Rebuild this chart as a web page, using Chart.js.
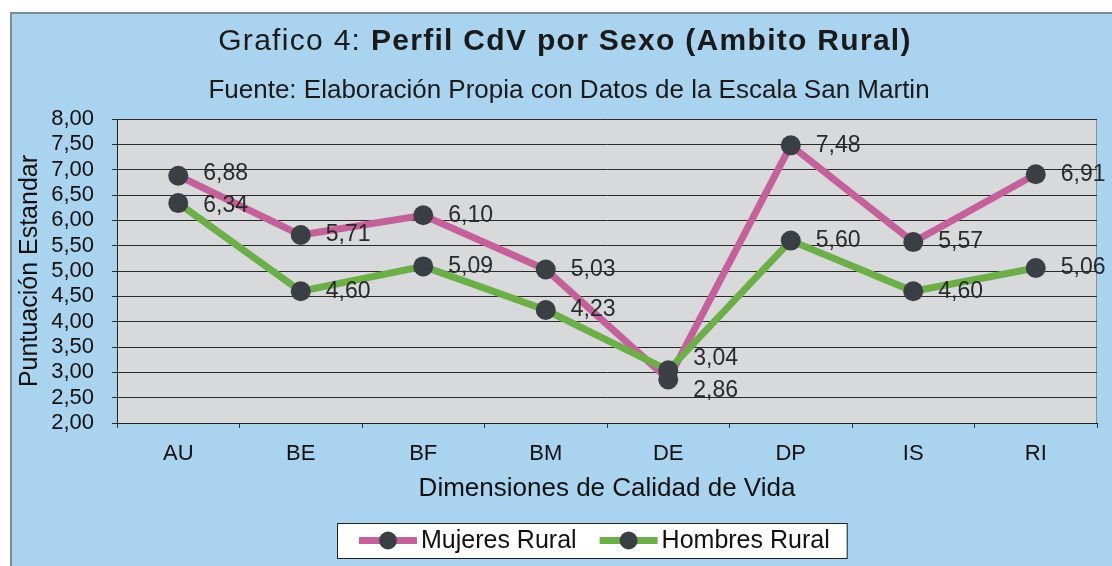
<!DOCTYPE html>
<html>
<head>
<meta charset="utf-8">
<script src="https://cdn.jsdelivr.net/npm/chart.js@4/dist/chart.umd.min.js"></script>
<style>
  html, body { margin: 0; padding: 0; background: #fff; }
  #wrap { position: relative; width: 1112px; height: 566px; }
</style>
</head>
<body>
<div id="wrap"><canvas id="perfilChart" width="1112" height="566"></canvas></div>
<script>
const categories = ['AU', 'BE', 'BF', 'BM', 'DE', 'DP', 'IS', 'RI'];
const mujeresRural = [6.88, 5.71, 6.10, 5.03, 2.86, 7.48, 5.57, 6.91];
const hombresRural = [6.34, 4.60, 5.09, 4.23, 3.04, 5.60, 4.60, 5.06];
const seriesNames = ['Mujeres Rural', 'Hombres Rural'];
const yTickValues = [2, 2.5, 3, 3.5, 4, 4.5, 5, 5.5, 6, 6.5, 7, 7.5, 8];

const titleNormal = 'Grafico 4: ';
const titleBold = 'Perfil CdV por Sexo (Ambito Rural)';
const subtitleText = 'Fuente: Elaboración Propia con Datos de la Escala San Martin';
const yTitleText = 'Puntuación Estandar';
const xTitleText = 'Dimensiones de Calidad de Vida';

const FONT = 'Arial, "Liberation Sans", sans-serif';
const PINK = '#c4619a';
const GREEN = '#6cae48';
const MARKER = '#3a3f46';
const fmt = v => v.toFixed(2).replace('.', ',');

// blue panel, grey plot area, titles
const backdrop = {
    id: 'backdrop',
    beforeDraw(chart) {
        const { ctx, chartArea: a } = chart;
        ctx.save();
        ctx.fillStyle = '#a9d3ef';
        ctx.fillRect(11, 13, 1101, 553);
        ctx.fillStyle = '#7f8c96';
        ctx.fillRect(10, 12, 1102, 2);
        ctx.fillRect(10, 12, 2, 554);
        ctx.fillStyle = '#d7d9db';
        ctx.fillRect(a.left, a.top, a.right - a.left, a.bottom - a.top);
        ctx.strokeStyle = '#8a8f94';
        ctx.lineWidth = 1;
        ctx.strokeRect(a.left + 0.5, a.top + 0.5, a.right - a.left - 1, a.bottom - a.top);

        // title with mixed weight
        ctx.fillStyle = '#1a1a1a';
        ctx.textBaseline = 'middle';
        ctx.textAlign = 'left';
        ctx.letterSpacing = '1.3px';
        ctx.font = '30px ' + FONT;
        const w1 = ctx.measureText(titleNormal).width;
        ctx.font = 'bold 30px ' + FONT;
        const w2 = ctx.measureText(titleBold).width;
        const x = 565 - (w1 + w2) / 2;
        ctx.font = '30px ' + FONT;
        ctx.fillText(titleNormal, x, 42);
        ctx.font = 'bold 30px ' + FONT;
        ctx.fillText(titleBold, x + w1, 42);

        ctx.letterSpacing = '0px';
        ctx.font = '26px ' + FONT;
        ctx.textAlign = 'center';
        ctx.fillText(subtitleText, 569, 91);
        ctx.restore();
    }
};

// value labels to the right of each marker
const valueLabels = {
    id: 'valueLabels',
    afterDatasetsDraw(chart) {
        const { ctx } = chart;
        const metas = chart.data.datasets.map((d, i) => chart.getDatasetMeta(i));
        ctx.save();
        ctx.font = '23px ' + FONT;
        ctx.fillStyle = '#2a2a2a';
        ctx.textBaseline = 'middle';
        ctx.textAlign = 'left';
        categories.forEach((c, idx) => {
            const pts = metas.map((m, di) => ({ p: m.data[idx], v: chart.data.datasets[di].data[idx] }));
            const ys = pts.map(o => o.p.y);
            if (pts.length === 2 && Math.abs(ys[0] - ys[1]) < 30) {
                const mid = (ys[0] + ys[1]) / 2;
                const up = pts[0].v >= pts[1].v ? 0 : 1;
                ys[up] = mid - 16;
                ys[1 - up] = mid + 16;
            }
            pts.forEach((o, k) => ctx.fillText(fmt(o.v), o.p.x + 25, ys[k]));
        });
        ctx.restore();
    }
};

// legend box at the bottom
const legendBox = {
    id: 'legendBox',
    afterDraw(chart) {
        const { ctx } = chart;
        const sets = chart.data.datasets;
        ctx.save();
        ctx.font = '25px ' + FONT;
        const sample = 58, gapText = 4, gapItem = 23, padL = 22, padR = 17;
        let total = padL + padR;
        sets.forEach((d, i) => {
            total += sample + gapText + ctx.measureText(d.label).width + (i < sets.length - 1 ? gapItem : 0);
        });
        const left = Math.round(592 - total / 2), top = 523, h = 35, cy = top + h / 2;
        ctx.fillStyle = '#ffffff';
        ctx.fillRect(left, top, total, h);
        ctx.strokeStyle = '#222';
        ctx.lineWidth = 1;
        ctx.strokeRect(left + 0.5, top + 0.5, total, h);
        let x = left + padL;
        sets.forEach(d => {
            ctx.strokeStyle = d.borderColor;
            ctx.lineWidth = 7;
            ctx.beginPath();
            ctx.moveTo(x, cy);
            ctx.lineTo(x + sample, cy);
            ctx.stroke();
            ctx.fillStyle = MARKER;
            ctx.beginPath();
            ctx.arc(x + sample / 2, cy, 9, 0, Math.PI * 2);
            ctx.fill();
            x += sample + gapText;
            ctx.fillStyle = '#111';
            ctx.textBaseline = 'middle';
            ctx.fillText(d.label, x, cy + 1);
            x += ctx.measureText(d.label).width + gapItem;
        });
        ctx.restore();
    }
};

const ctx = document.getElementById('perfilChart').getContext('2d');
new Chart(ctx, {
    type: 'line',
    data: {
        labels: categories,
        datasets: [{
            label: seriesNames[0],
            data: mujeresRural,
            borderColor: PINK,
            borderWidth: 7,
            pointRadius: 10,
            pointBackgroundColor: MARKER,
            pointBorderWidth: 0,
            tension: 0,
            order: 2
        }, {
            label: seriesNames[1],
            data: hombresRural,
            borderColor: GREEN,
            borderWidth: 7,
            pointRadius: 10,
            pointBackgroundColor: MARKER,
            pointBorderWidth: 0,
            tension: 0,
            order: 1
        }]
    },
    options: {
        responsive: false,
        animation: false,
        devicePixelRatio: 1,
        layout: { padding: { top: 119, right: 15, bottom: 0, left: 0 } },
        plugins: {
            legend: { display: false },
            title: { display: false },
            tooltip: { enabled: false }
        },
        scales: {
            x: {
                offset: true,
                grid: { offset: true, drawOnChartArea: false, drawTicks: true, tickLength: 5, color: '#333' },
                border: { color: '#222', width: 1 },
                ticks: { color: '#111', font: { size: 22, family: FONT }, padding: 13 },
                title: {
                    display: true,
                    text: xTitleText,
                    color: '#111',
                    font: { size: 26, family: FONT },
                    padding: { top: 0, bottom: 62 }
                },
                afterFit(scale) { scale.height = 143; }
            },
            y: {
                min: yTickValues[0],
                max: yTickValues[yTickValues.length - 1],
                grid: { color: '#2a2a2a', lineWidth: 1, tickLength: 5 },
                border: { color: '#222', width: 1 },
                ticks: {
                    autoSkip: false,
                    color: '#111',
                    font: { size: 22, family: FONT, lineHeight: 1 },
                    padding: 18,
                    callback: v => fmt(v)
                },
                afterBuildTicks(scale) { scale.ticks = yTickValues.map(v => ({ value: v })); },
                title: {
                    display: true,
                    text: yTitleText,
                    color: '#111',
                    font: { size: 25, family: FONT },
                    padding: { top: 15, bottom: 0 }
                },
                afterFit(scale) { scale.width = 117; }
            }
        }
    },
    plugins: [backdrop, valueLabels, legendBox]
});
</script>
</body>
</html>
